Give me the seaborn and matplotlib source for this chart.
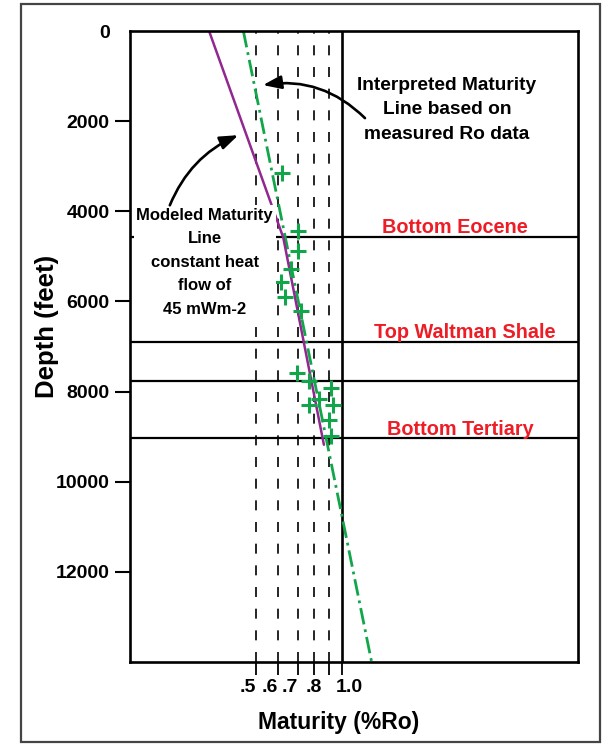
import matplotlib
matplotlib.use("Agg")
import matplotlib.pyplot as plt
import matplotlib.transforms as mtransforms
from matplotlib.patches import Rectangle
from matplotlib.ticker import FixedLocator, NullLocator
import pandas as pd
import seaborn as sns

# Measured vitrinite reflectance samples
ro_depth_ft = [3150, 4440, 4880, 5270, 5570, 5900, 6220, 7580, 7760, 7930,
               8170, 8290, 8290, 8620, 8980]
ro_measured = [0.616, 0.704, 0.704, 0.664, 0.613, 0.633, 0.718, 0.695, 0.769,
               0.919, 0.831, 0.769, 0.933, 0.903, 0.915]

# Modeled maturity line, constant heat flow of 45 mW/m2
model_depth_ft = [0, 4580, 9180]
model_ro = [0.344, 0.624, 0.865]

# Interpreted maturity trend through the measured Ro data
trend_depth_ft = [0, 14000]
trend_ro = [0.453, 1.269]

# Stratigraphic horizons
horizon_depth_ft = [4580, 6910, 7760, 9020]

# Axis ticks
ro_ticks = [0.5, 0.6, 0.7, 0.8, 0.9, 1.0]
ro_tick_labels = [".5", ".6", ".7", ".8", "", "1.0"]
depth_ticks = [0, 2000, 4000, 6000, 8000, 10000, 12000]
depth_tick_labels = ["0", "2000", "4000", "6000", "8000", "10000", "12000"]

samples = pd.DataFrame({"Ro": ro_measured, "Depth": ro_depth_ft})
model = pd.DataFrame({"Ro": model_ro, "Depth": model_depth_ft})
trend = pd.DataFrame({"Ro": trend_ro, "Depth": trend_depth_ft})

sns.set_theme(style="white")
plt.rcParams["font.family"] = ["Liberation Sans", "DejaVu Sans"]
plt.rcParams["font.weight"] = "bold"
plt.rcParams["text.color"] = "black"
plt.rcParams["axes.labelcolor"] = "black"
plt.rcParams["xtick.color"] = "black"
plt.rcParams["ytick.color"] = "black"

GREEN = "#12a64a"
PURPLE = "#92278f"
RED = "#ee1c25"

fig = plt.figure(figsize=(6.15, 7.47), dpi=100)
ax = fig.add_axes([130 / 615, 1 - 662 / 747, 448 / 615, 631 / 747])
ax.set_xscale("log")
ax.set_xlim(0.1823, 6.656)
ax.set_ylim(14000, 0)

# Reference Ro grid
for r in ro_ticks[:-1]:
    ax.axvline(r, color="black", lw=1.2, ls=(0, (6.0, 7.0)), zorder=1)
ax.axvline(1.0, color="black", lw=1.9, zorder=1)

# Horizons
for d in horizon_depth_ft:
    ax.axhline(d, color="black", lw=1.6, zorder=1)

sns.lineplot(data=trend, x="Ro", y="Depth", sort=False, estimator=None,
             color=GREEN, lw=2.0, ls=(0, (6.0, 1.8, 1.0, 1.8)), ax=ax, zorder=3)
sns.lineplot(data=model, x="Ro", y="Depth", sort=False, estimator=None,
             color=PURPLE, lw=1.8, ax=ax, zorder=3)
sns.scatterplot(data=samples, x="Ro", y="Depth", marker="+", s=130,
                color=GREEN, linewidth=2.2, ax=ax, zorder=4)

# Horizon names
ax.text(2.478, 4490, "Bottom Eocene", color=RED, fontsize=14.3,
        fontweight="bold", ha="center", va="baseline")
ax.text(2.679, 6822, "Top Waltman Shale", color=RED, fontsize=14.3,
        fontweight="bold", ha="center", va="baseline")
ax.text(2.597, 8956, "Bottom Tertiary", color=RED, fontsize=14.3,
        fontweight="bold", ha="center", va="baseline")

# Line annotations
ax.text(2.32, 1745, "Interpreted Maturity\nLine based on\nmeasured Ro data",
        fontsize=13.8, fontweight="bold", ha="center", va="center",
        linespacing=1.58, zorder=5)
ax.annotate("", xy=(0.530, 1200), xytext=(1.203, 1933),
            arrowprops=dict(arrowstyle="-|>,head_length=0.55,head_width=0.2",
                            mutation_scale=20, color="black", lw=1.9,
                            shrinkA=0, shrinkB=0,
                            connectionstyle="arc3,rad=0.25"), zorder=5)

ax.text(0.332, 5133, "Modeled Maturity\nLine\nconstant heat\nflow of\n45 mWm-2",
        fontsize=12, fontweight="bold", ha="center", va="center",
        linespacing=1.72, zorder=5,
        bbox=dict(facecolor="white", edgecolor="none", pad=2.0))
ax.annotate("", xy=(0.435, 2311), xytext=(0.251, 3867),
            arrowprops=dict(arrowstyle="-|>,head_length=0.55,head_width=0.2",
                            mutation_scale=20, color="black", lw=1.9,
                            shrinkA=0, shrinkB=0,
                            connectionstyle="arc3,rad=-0.2"), zorder=6)

# Ticks
ax.xaxis.set_major_locator(FixedLocator(ro_ticks))
ax.xaxis.set_minor_locator(NullLocator())
ax.set_xticklabels(ro_tick_labels)
ax.yaxis.set_major_locator(FixedLocator(depth_ticks))
ax.set_yticklabels(depth_tick_labels)
ax.tick_params(axis="x", direction="out", length=9, width=1.3, pad=3,
               labelsize=14, bottom=True)
ax.tick_params(axis="y", direction="out", length=11, width=1.5, pad=3.5,
               labelsize=14, left=True)
for lab in ax.get_xticklabels() + ax.get_yticklabels():
    lab.set_fontweight("bold")
for lab, align in zip(ax.get_xticklabels(),
                      ["right", "right", "right", "center", "center", "center"]):
    lab.set_horizontalalignment(align)
xlabels = ax.get_xticklabels()
xlabels[-1].set_transform(xlabels[-1].get_transform()
                          + mtransforms.ScaledTranslation(0.07, 0, fig.dpi_scale_trans))
ax.yaxis.get_major_ticks()[0].tick1line.set_visible(False)

ax.set_xlabel("Maturity (%Ro)", fontsize=16.5, fontweight="bold")
ax.set_ylabel("Depth (feet)", fontsize=18.5, fontweight="bold")
ax.xaxis.set_label_coords(0.4665, -0.0772)
ax.yaxis.set_label_coords(-0.159, 0.5325)

for sp in ax.spines.values():
    sp.set_color("black")
    sp.set_linewidth(1.9)
    sp.set_zorder(6)

# Page frame
fig.patches.append(Rectangle((21 / 615, 1 - 742 / 747), 579 / 615, 738 / 747,
                             transform=fig.transFigure, fill=False,
                             edgecolor="#444444", lw=1.6, zorder=0))

fig.savefig("out.png", dpi=100)
